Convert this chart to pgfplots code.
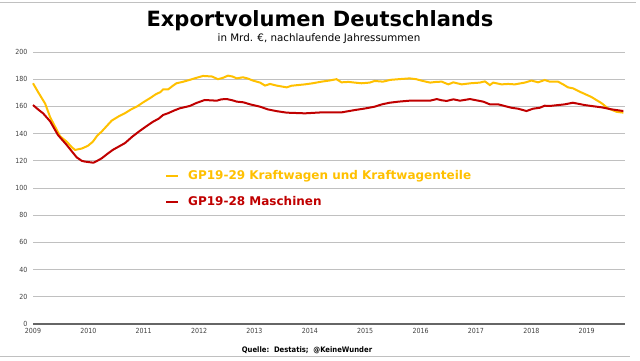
\documentclass[border=0pt]{standalone}
\usepackage{pgfplots}
\pgfplotsset{compat=1.18}
\usepackage{fontspec}
\setmainfont{DejaVu Sans}
\newfontfamily\condfont{DejaVu Sans Condensed}
\definecolor{cyel}{HTML}{FFC000}
\definecolor{cred}{HTML}{C00000}
\definecolor{cgrid}{HTML}{C0C0C0}
\definecolor{ctick}{HTML}{404040}
\begin{document}
\begin{tikzpicture}[x=1bp,y=1bp]
\path[use as bounding box] (0,0) rectangle (640,360);
\draw[cgrid, line width=1bp] (0,357) -- (636,357);
\draw[cgrid, line width=1bp] (0,4) -- (630,4);
\node[font=\bfseries\fontsize{21bp}{24bp}\selectfont] at (320,339.5) {Exportvolumen Deutschlands};
\node[font=\fontsize{10.3bp}{12bp}\selectfont] at (319,321) {in Mrd. €, nachlaufende Jahressummen};
\node[font=\condfont\bfseries\fontsize{7.6bp}{9bp}\selectfont] at (307,10) {Quelle:~~Destatis;~~@KeineWunder};
\begin{axis}[
  at={(33bp,36bp)}, anchor=south west,
  width=592bp, height=272bp, scale only axis,
  xmin=2009, xmax=2019.69, ymin=0, ymax=200,
  xtick={2009,...,2019}, ytick={0,20,...,200},
  /pgf/number format/1000 sep={},
  /pgf/number format/assume math mode=true,
  tick label style={font=\condfont\fontsize{7bp}{8bp}\selectfont, text=ctick},
  major tick length=0pt,
  axis x line*=bottom, axis y line*=left,
  y axis line style={draw=none},
  x axis line style={draw=ctick!80, line width=1.5bp},
  ymajorgrids, grid style={cgrid, line width=0.9bp},
  yticklabel style={xshift=-2bp},
  xticklabel style={yshift=-1bp},
  clip=false,
  legend style={at={(0.223,0.572)}, anchor=north west, draw=none, fill=none,
    font=\bfseries\fontsize{12bp}{14bp}\selectfont, row sep=11bp,
    inner sep=0pt},
  legend cell align=left,
  legend image code/.code={\draw[#1, line width=2bp] (0bp,0bp) -- (12bp,0bp); \path (19bp,0bp);},
]
\addplot[cyel, line width=2bp] coordinates {
(2009.00,177) (2009.10,170) (2009.22,162) (2009.31,152) (2009.40,145) (2009.49,138)
(2009.61,134) (2009.70,130) (2009.76,128) (2009.88,129) (2009.99,131) (2010.08,134)
(2010.16,138.5) (2010.24,141.5) (2010.33,145.5) (2010.42,149.5) (2010.54,152.5)
(2010.66,155) (2010.78,158) (2010.88,160) (2010.99,163) (2011.11,166) (2011.22,169)
(2011.30,170.5) (2011.35,172.5) (2011.44,172.5) (2011.52,175) (2011.59,177)
(2011.70,178) (2011.83,179.5) (2011.95,181) (2012.07,182.4) (2012.23,182)
(2012.34,180) (2012.43,181) (2012.52,182.6) (2012.60,182) (2012.68,180.6)
(2012.79,181.4) (2012.88,180.5) (2012.97,179) (2013.10,177.5) (2013.19,175.3)
(2013.28,176.5) (2013.40,175.3) (2013.58,174) (2013.67,175.2) (2013.91,176.2)
(2014.05,177) (2014.21,178.2) (2014.35,179) (2014.48,180) (2014.57,177.7)
(2014.70,178) (2014.81,177.5) (2014.93,177) (2015.08,177.5) (2015.17,178.7)
(2015.32,178.2) (2015.45,179.5) (2015.60,180) (2015.80,180.6) (2015.92,180)
(2016.04,178.7) (2016.17,177.5) (2016.28,178) (2016.38,178.2) (2016.50,176.2)
(2016.59,177.7) (2016.74,176.2) (2016.90,177) (2017.07,177.5) (2017.16,178.4)
(2017.25,175.7) (2017.31,177.5) (2017.46,176.2) (2017.58,176.5) (2017.70,176.2)
(2017.88,177.5) (2018.00,179) (2018.12,177.7) (2018.24,179.4) (2018.33,178.2)
(2018.48,178.2) (2018.58,176) (2018.66,174) (2018.75,173.3) (2018.90,170.3)
(2019.08,167) (2019.18,164.5) (2019.27,162.3) (2019.38,158.6) (2019.54,156)
(2019.66,155.4)
};
\addlegendentry{\textcolor{cyel}{GP19-29 Kraftwagen und Kraftwagenteile}}
\addplot[cred, line width=2bp] coordinates {
(2009.00,161) (2009.10,157.5) (2009.18,155) (2009.31,149) (2009.45,139)
(2009.61,131.6) (2009.70,127) (2009.79,122.5) (2009.88,120) (2009.94,119.4)
(2010.09,118.6) (2010.16,120) (2010.24,121.8) (2010.34,125) (2010.44,128)
(2010.55,130.5) (2010.66,133) (2010.80,138) (2010.93,142) (2011.05,145.5)
(2011.17,148.8) (2011.27,151) (2011.35,153.7) (2011.44,155) (2011.55,157)
(2011.65,158.6) (2011.83,160.3) (2011.95,162.5) (2012.10,164.7) (2012.32,164.2)
(2012.40,165.2) (2012.50,165.4) (2012.60,164.5) (2012.68,163.5) (2012.80,163)
(2012.92,161.5) (2013.10,159.8) (2013.24,157.8) (2013.40,156.5) (2013.58,155.4)
(2013.91,154.9) (2014.21,155.6) (2014.57,155.6) (2014.81,157.3) (2015.00,158.5)
(2015.17,159.8) (2015.30,161.5) (2015.44,162.7) (2015.60,163.5) (2015.80,164.2)
(2016.17,164.2) (2016.29,165.4) (2016.38,164.5) (2016.47,164) (2016.59,165.2)
(2016.71,164.2) (2016.89,165.4) (2017.13,163.5) (2017.25,161.5) (2017.40,161.5)
(2017.64,159) (2017.76,158.3) (2017.91,156.6) (2018.03,158.3) (2018.15,159)
(2018.24,160.5) (2018.33,160.3) (2018.60,161.5) (2018.75,162.7) (2018.96,161)
(2019.10,160.2) (2019.27,159.3) (2019.45,157.8) (2019.66,156.6)
};
\addlegendentry{\textcolor{cred}{GP19-28 Maschinen}}
\end{axis}
\end{tikzpicture}
\end{document}
